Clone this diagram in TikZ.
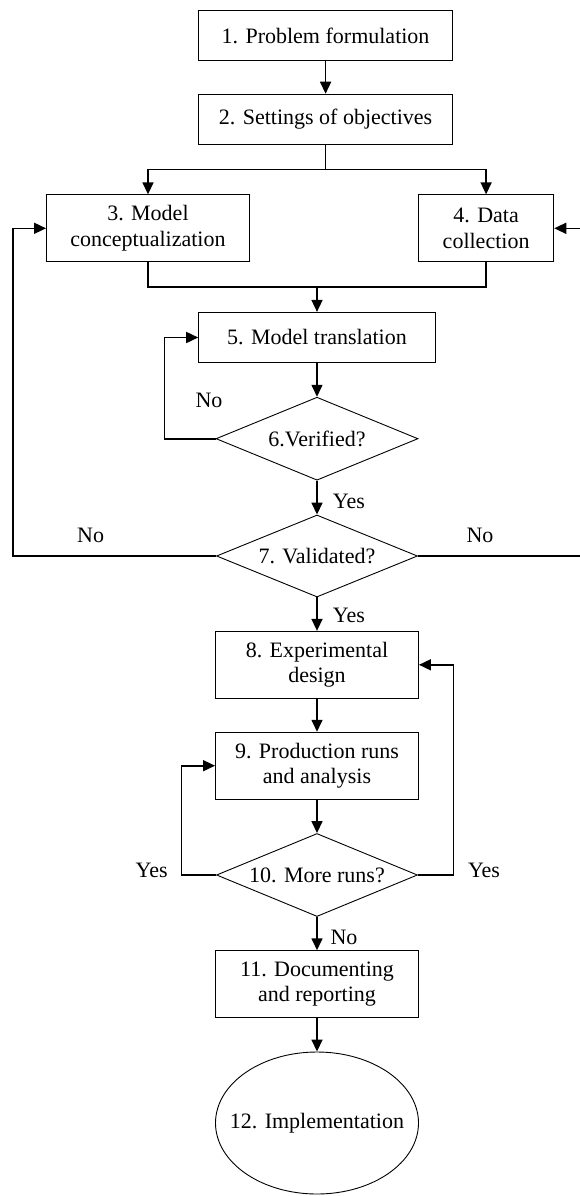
\documentclass[tikz,border=0pt]{standalone}
\usepackage{fontspec}
\setmainfont{Liberation Serif}
\usetikzlibrary{shapes.geometric,arrows.meta}
\begin{document}
\begin{tikzpicture}[x=1pt,y=-1pt,
  every node/.style={font=\fontsize{22}{25.7}\selectfont},
  stepbox/.style={draw,line width=0.9pt,align=center,inner sep=0pt,minimum height=67pt,minimum width=203pt},
  decide/.style={draw,diamond,line width=0.9pt,inner sep=0pt,aspect=2.4},
  conn/.style={line width=1.6pt},
  arr/.style={conn,-{Triangle[length=12pt,width=11pt]}},
  lbl/.style={inner sep=0pt}]
\useasboundingbox (0,0) rectangle (580,1196);
\clip (0,0) rectangle (580,1196);
\node[stepbox,minimum width=254pt,minimum height=50pt] (b1) at (325.6,35.5) {1. Problem formulation};
\node[stepbox,minimum width=254pt,minimum height=50pt] (b2) at (325.6,119.2) {2. Settings of objectives};
\node[stepbox] (b3) at (148,228.3) {3. Model\\conceptualization};
\node[stepbox,minimum width=135.4pt] (b4) at (486.1,228.3) {4. Data\\collection};
\node[stepbox,minimum width=236.7pt,minimum height=50.3pt] (b5) at (317,337.5) {5. Model translation};
\node[decide,minimum width=202pt,minimum height=83pt] (d6) at (317,438.7) {6.Verified?};
\node[decide,minimum width=201pt,minimum height=82pt] (d7) at (317,556) {7. Validated?};
\node[stepbox] (b8) at (317,664.8) {8. Experimental\\design};
\node[stepbox] (b9) at (317,765.7) {9. Production runs\\and analysis};
\node[decide,minimum width=201pt,minimum height=83pt] (d10) at (317,875) {10. More runs?};
\node[stepbox] (b11) at (317,984.2) {11. Documenting\\and reporting};
\node[draw,ellipse,line width=0.9pt,inner sep=0pt,minimum width=203pt,minimum height=142pt] (e12) at (317,1123) {};
\node[inner sep=0pt] (t12) at (e12.center) {12. Implementation};
% labels
\node[lbl] (l1) at (209,400.7) {No};
\node[lbl] (l2) at (349,501) {Yes};
\node[lbl] (l3) at (90.6,535) {No};
\node[lbl] (l4) at (480,535) {No};
\node[lbl] (l5) at (349,615) {Yes};
\node[lbl] (l6) at (151.7,870.7) {Yes};
\node[lbl] (l7) at (484,870.7) {Yes};
\node[lbl] (l8) at (344,937.7) {No};
% coordinates
\coordinate (j1) at (325.6,169.3);
\coordinate (j2) at (317,287);
\coordinate (c6) at (164.6,438.7);
\coordinate (c7l) at (13,556);
\coordinate (c7r) at (581,556);
\coordinate (c10l) at (181.6,875);
\coordinate (c10r) at (453.6,875);
% connectors
\draw[arr] (b1) -- (b2);
\draw[conn] (b2.south) -- (j1);
\draw[arr] (j1) -| (b3.north);
\draw[arr] (j1) -| (b4.north);
\draw[conn] (b3.south) |- (j2);
\draw[conn] (b4.south) |- (j2);
\draw[arr] (j2) -- (b5.north);
\draw[arr] (b5.south) -- (d6.north);
\draw[arr] (d6.west) -- (c6) |- (b5.west);
\draw[arr] (d6.south) -- (d7.north);
\draw[arr] (d7.west) -- (c7l) |- (b3.west);
\draw[arr] (d7.east) -- (c7r) |- (b4.east);
\draw[arr] (d7.south) -- (b8.north);
\draw[arr] (b8.south) -- (b9.north);
\draw[arr] (b9.south) -- (d10.north);
\draw[arr] (d10.west) -- (c10l) |- (b9.west);
\draw[arr] (d10.east) -- (c10r) |- (b8.east);
\draw[arr] (d10.south) -- (b11.north);
\draw[arr] (b11.south) -- (e12.north);
\end{tikzpicture}
\end{document}
